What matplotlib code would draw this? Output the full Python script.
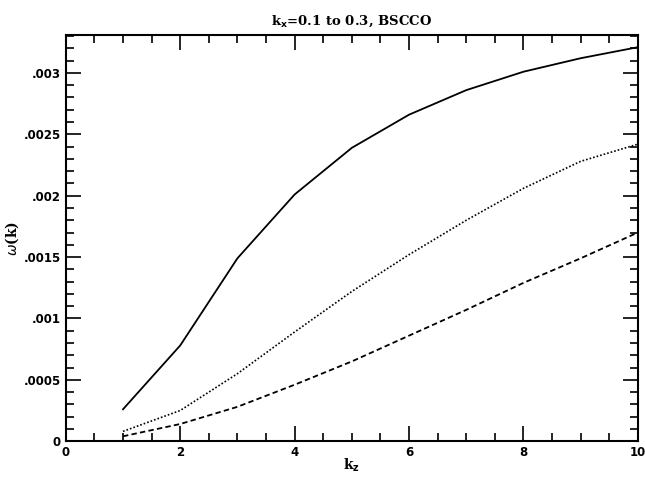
import matplotlib.pyplot as plt
from matplotlib.ticker import MultipleLocator, FuncFormatter

k = [1, 2, 3, 4, 5, 6, 7, 8, 9, 10]
w_solid = [0.00026, 0.00078, 0.00149, 0.00201, 0.00239, 0.00266, 0.00286, 0.00301, 0.00312, 0.00321]
w_dotted = [0.00008, 0.00025, 0.00055, 0.00089, 0.00122, 0.00152, 0.00180, 0.00206, 0.00228, 0.00242]
w_dashed = [0.00004, 0.00014, 0.00028, 0.00046, 0.00065, 0.00086, 0.00107, 0.00129, 0.00149, 0.00170]


def fmt(v, pos):
    if abs(v) < 1e-12:
        return "0"
    s = ("%.4f" % v).rstrip("0")
    return s[1:] if s.startswith("0") else s


fig = plt.figure(figsize=(6.45, 4.78), dpi=100)
ax = fig.add_axes([0.102, 0.077, 0.887, 0.85])

ax.plot(k, w_solid, color="black", lw=1.3, ls="-")
ax.plot(k, w_dotted, color="black", lw=1.2, ls=(0, (1, 1.2)))
ax.plot(k, w_dashed, color="black", lw=1.3, ls=(0, (3, 1.8)))

ax.set_xlim(0, 10)
ax.set_ylim(0, 0.00331)
ax.xaxis.set_major_locator(MultipleLocator(2))
ax.xaxis.set_minor_locator(MultipleLocator(0.5))
ax.yaxis.set_major_locator(MultipleLocator(0.0005))
ax.yaxis.set_minor_locator(MultipleLocator(0.0001))
ax.yaxis.set_major_formatter(FuncFormatter(fmt))
ax.xaxis.set_major_formatter(FuncFormatter(lambda v, p: "%d" % v))

ax.tick_params(which="both", direction="in", top=True, right=True, width=1.2)
ax.tick_params(which="major", length=11, labelsize=8.5)
ax.tick_params(which="minor", length=6)
for lab in ax.get_xticklabels() + ax.get_yticklabels():
    lab.set_fontweight("bold")
for sp in ax.spines.values():
    sp.set_linewidth(1.5)

ax.set_title(r"k$_\mathbf{x}$=0.1 to 0.3, BSCCO", family="DejaVu Serif",
             fontsize=9.5, fontweight="bold", pad=7)
ax.set_xlabel(r"k$_\mathbf{z}$", family="DejaVu Serif", fontsize=10, fontweight="bold", labelpad=-2)
ax.set_ylabel(r"$\omega$(k)", family="DejaVu Serif", fontsize=10, fontweight="bold", labelpad=2)

fig.savefig("out.png", dpi=100)
